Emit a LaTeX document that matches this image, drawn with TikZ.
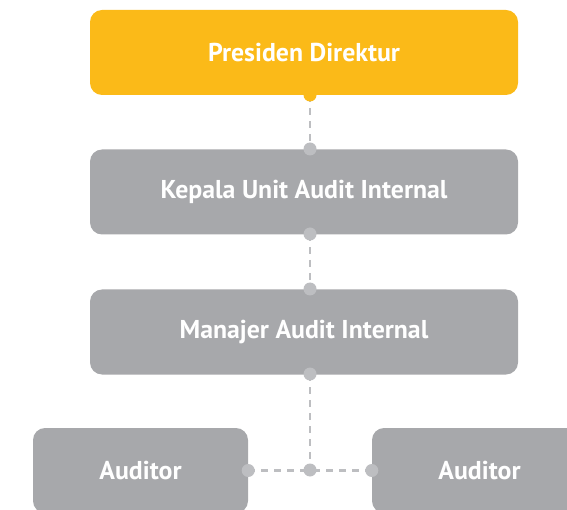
\documentclass[tikz,border=0pt]{standalone}
\usepackage{fontspec}
\setmainfont{PT Sans}
\definecolor{ayellow}{HTML}{FBBA18}
\definecolor{agray}{HTML}{A7A8AB}
\definecolor{adot}{HTML}{BDBEC1}
\tikzset{
  box/.style={rounded corners=12pt, fill=#1, draw=none, text=white,
    font=\bfseries\fontsize{25.8}{28}\selectfont, minimum width=428pt, minimum height=85pt, inner sep=0pt},
  smallbox/.style={box=agray, minimum width=215pt},
  conn/.style={draw=adot, line width=2.5pt, dash pattern=on 7pt off 6pt},
  dotc/.style={fill=#1, draw=none}
}
\begin{document}
\begin{tikzpicture}[x=1pt,y=-1pt]
\useasboundingbox (0,0) rectangle (567,510);
\clip (0,0) rectangle (567,510);
\node[box=ayellow] (pd) at (304,52.5) {Presiden Direktur};
\node[box=agray] (kua) at (304,192) {Kepala Unit Audit Internal};
\node[box=agray] (mai) at (304,332) {Manajer Audit Internal};
\node[smallbox] (audL) at (140.5,470.5) {Auditor};
\node[smallbox] (audR) at (479.5,470.5) {Auditor};
\coordinate (pdb) at (310,95);
\coordinate (kuat) at (310,149);
\coordinate (kuab) at (310,234);
\coordinate (mait) at (310,289);
\coordinate (maib) at (310,374);
\coordinate (j) at (310,470);
\draw[conn] (pdb) -- (kuat);
\draw[conn] (kuab) -- (mait);
\draw[conn] (maib) -- (j);
\draw[conn] (audL.east) -- (audR.west);
\fill[dotc=ayellow] (pdb) circle (6.5pt);
\foreach \p in {kuat,kuab,mait,maib,j}{\fill[dotc=adot] (\p) circle (6.5pt);}
\fill[dotc=adot] (audL.east) circle (6.5pt);
\fill[dotc=adot] (audR.west) circle (6.5pt);
\end{tikzpicture}
\end{document}
